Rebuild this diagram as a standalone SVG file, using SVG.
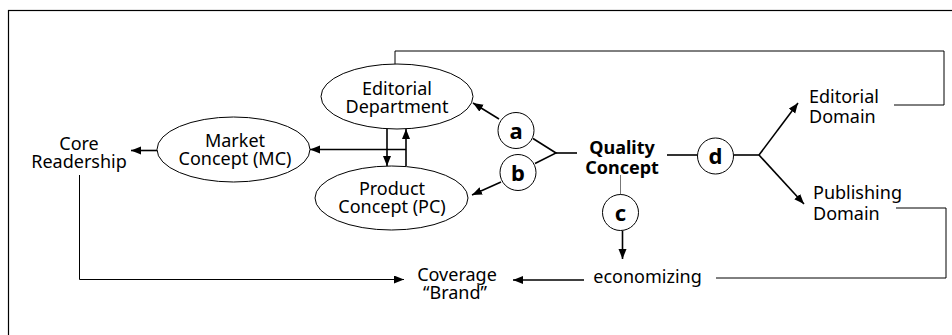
<svg xmlns="http://www.w3.org/2000/svg" width="952" height="335" viewBox="0 0 952 335">
<style>
text{font-family:"Noto Sans","Open Sans","Liberation Sans",sans-serif;font-size:18px;fill:#000}
.b{font-weight:bold}
.lt{font-size:22px;font-weight:bold}
.node ellipse,.node circle{fill:#fff;stroke:#000;stroke-width:1}
.c{fill:none;stroke:#000;stroke-width:1.6}
.t{fill:none;stroke:#000;stroke-width:1}
.g{fill:none;stroke:#777;stroke-width:1}
</style>
<defs>
<marker id="ah" markerUnits="userSpaceOnUse" markerWidth="11" markerHeight="9" refX="10" refY="4" orient="auto">
<path d="M0,0 L10,4 L0,8 z" fill="#000"/>
</marker>
</defs>
<rect x="8.5" y="10.5" width="960" height="340" fill="#fff" stroke="#000" stroke-width="1.2"/>
<g id="connectors">
<polyline class="t" points="395,64 395,51 944,51 944,105 894,105"/>
<polyline class="t" points="896,208 946,208 946,278 716,278"/>
<line class="c" x1="157" y1="150.5" x2="131" y2="150.5" marker-end="url(#ah)"/>
<line class="c" x1="387" y1="129" x2="387" y2="166" marker-end="url(#ah)"/>
<line class="c" x1="406" y1="166" x2="406" y2="129" marker-end="url(#ah)"/>
<line class="c" x1="406" y1="149.5" x2="310" y2="149.5" marker-end="url(#ah)"/>
<line class="c" x1="499" y1="119" x2="473" y2="103" marker-end="url(#ah)"/>
<line class="c" x1="501" y1="182" x2="472" y2="195" marker-end="url(#ah)"/>
<polyline class="c" points="533,138.5 556,153 535,163.5"/>
<line class="c" x1="556" y1="153" x2="577" y2="153"/>
<line class="c" x1="667" y1="155" x2="697" y2="155"/>
<line class="c" x1="734" y1="155" x2="759" y2="155"/>
<line class="c" x1="759" y1="155" x2="798" y2="103" marker-end="url(#ah)"/>
<line class="c" x1="759" y1="155" x2="804" y2="204" marker-end="url(#ah)"/>
<line class="g" x1="620.5" y1="175" x2="620.5" y2="195"/>
<line class="c" x1="622.5" y1="231" x2="622.5" y2="259" marker-end="url(#ah)"/>
<line class="c" x1="584" y1="280" x2="513" y2="280" marker-end="url(#ah)"/>
<polyline class="t" points="79.5,175 79.5,279.5 404,279.5" marker-end="url(#ah)"/>
</g>
<g id="core-readership">
<text x="79" y="150" text-anchor="middle">Core</text>
<text x="79" y="168" text-anchor="middle">Readership</text>
</g>
<g id="market-concept" class="node">
<ellipse cx="233.5" cy="149.5" rx="76.5" ry="32.5"/>
<text x="235" y="147" text-anchor="middle">Market</text>
<text x="235" y="165" text-anchor="middle">Concept (MC)</text>
</g>
<g id="editorial-department" class="node">
<ellipse cx="397" cy="96.5" rx="76" ry="32.5"/>
<text x="397" y="95" text-anchor="middle">Editorial</text>
<text x="397" y="113" text-anchor="middle">Department</text>
</g>
<g id="product-concept" class="node">
<ellipse cx="391.5" cy="198" rx="76.5" ry="32"/>
<text x="392" y="195" text-anchor="middle">Product</text>
<text x="392" y="213" text-anchor="middle">Concept (PC)</text>
</g>
<g id="circle-a" class="node">
<circle cx="516" cy="130.5" r="18"/>
<text class="lt" x="516" y="138.5" text-anchor="middle">a</text>
</g>
<g id="circle-b" class="node">
<circle cx="518" cy="172.5" r="18"/>
<text class="lt" x="518" y="180.5" text-anchor="middle">b</text>
</g>
<g id="quality-concept">
<text class="b" x="622" y="154" text-anchor="middle">Quality</text>
<text class="b" x="622" y="173.5" text-anchor="middle">Concept</text>
</g>
<g id="circle-c" class="node">
<circle cx="620.5" cy="212.5" r="18"/>
<text class="lt" x="620.5" y="220.5" text-anchor="middle">c</text>
</g>
<g id="circle-d" class="node">
<circle cx="715.5" cy="156" r="18"/>
<text class="lt" x="715.5" y="164" text-anchor="middle">d</text>
</g>
<g id="editorial-domain">
<text x="809" y="102.5">Editorial</text>
<text x="809" y="123">Domain</text>
</g>
<g id="publishing-domain">
<text x="813" y="199">Publishing</text>
<text x="813" y="220">Domain</text>
</g>
<g id="economizing">
<text x="647.5" y="283" text-anchor="middle">economizing</text>
</g>
<g id="coverage-brand">
<text x="457" y="281" text-anchor="middle">Coverage</text>
<text x="455" y="299" text-anchor="middle">“Brand”</text>
</g>
</svg>
